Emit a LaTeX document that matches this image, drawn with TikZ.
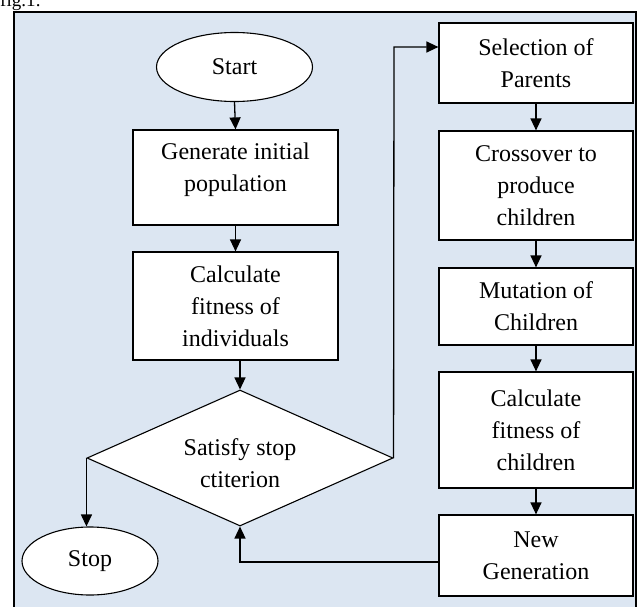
\documentclass[tikz,border=0pt]{standalone}
\usepackage{fontspec}
\setmainfont{Liberation Serif}
\usetikzlibrary{shapes.geometric,arrows.meta}
\definecolor{bgblue}{HTML}{DCE6F2}
\tikzset{
  every node/.style={font=\fontsize{24}{32}\selectfont, align=center, inner sep=0pt},
  boxnode/.style={draw=black, fill=white, line width=1.2pt, rectangle},
  ovalnode/.style={draw=black, fill=white, line width=1.1pt, ellipse},
  decnode/.style={draw=black, fill=white, line width=1.1pt, diamond},
  conn/.style={draw=black, line width=1.3pt, -{Triangle[length=12pt,width=11pt]}},
}
\begin{document}
\begin{tikzpicture}[x=1pt,y=-1pt]
\useasboundingbox (0,0) rectangle (638,606);
\node[anchor=base west, font=\fontsize{19}{22}\selectfont] (fig) at (0,6) {fig.1:};
\path[fill=bgblue, draw=black, line width=1.2pt] (14,12) rectangle (636,620);
% left column
\node[ovalnode, minimum width=156pt, minimum height=69pt] (start) at (234.5,67) {Start};
\node[boxnode, minimum width=205pt, minimum height=95pt] (gen) at (235.5,177.5) {};
\node (gentext) at (235.5,170) {Generate initial\\population};
\node[boxnode, minimum width=205pt, minimum height=108pt] (calc) at (235.5,306) {Calculate\\fitness of\\individuals};
\node[decnode, minimum width=306pt, minimum height=136pt, aspect=2.25] (dec) at (240,458) {};
\node (dectext) at (240,463) {Satisfy stop\\ctiterion};
\node[ovalnode, minimum width=136pt, minimum height=68pt] (stop) at (90,561) {Stop};
% right column
\node[boxnode, minimum width=194pt, minimum height=80pt] (sel) at (536,63) {Selection of\\Parents};
\node[boxnode, minimum width=194pt, minimum height=109pt] (cross) at (536,185.5) {Crossover to\\produce\\children};
\node[boxnode, minimum width=194pt, minimum height=77pt] (mut) at (536,306.5) {Mutation of\\Children};
\node[boxnode, minimum width=194pt, minimum height=116pt] (calc2) at (536,430) {Calculate\\fitness of\\children};
\node[boxnode, minimum width=194pt, minimum height=81pt] (newgen) at (536,555.5) {New\\Generation};
% connectors
\coordinate (ctop) at (394,47);
\coordinate (cbot) at (240,562);
\draw[conn] (start.south) -- (gen.north);
\draw[conn] (gen.south) -- (calc.north);
\draw[conn] (calc.south -| dec.north) -- (dec.north);
\draw[conn] (dec.west) -- (dec.west |- stop.north);
\draw[conn] (dec.east) -- (ctop) -- (sel.west |- ctop);
\draw[conn] (sel.south) -- (cross.north);
\draw[conn] (cross.south) -- (mut.north);
\draw[conn] (mut.south) -- (calc2.north);
\draw[conn] (calc2.south) -- (newgen.north);
\draw[conn] (newgen.west |- cbot) -- (cbot) -- (dec.south);
\end{tikzpicture}
\end{document}
